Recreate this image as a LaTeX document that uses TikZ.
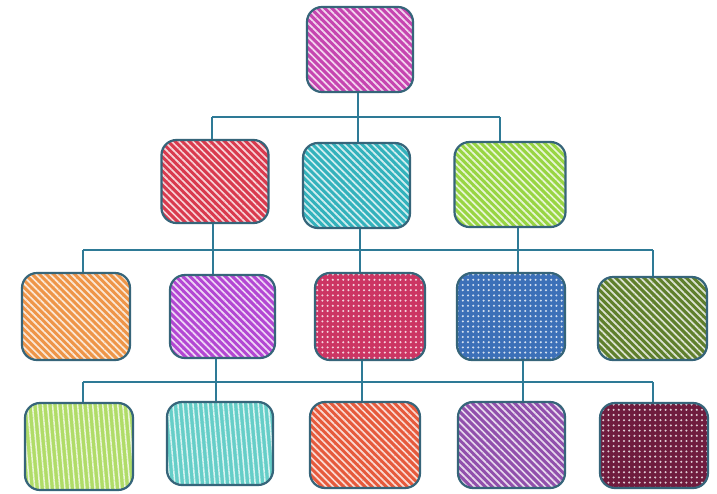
\documentclass[tikz,border=0pt]{standalone}
\usetikzlibrary{patterns.meta}
\definecolor{wirec}{HTML}{2E7A96}
\definecolor{edgec}{HTML}{36657A}
\definecolor{cTop}{HTML}{C645B0}
\definecolor{cOneA}{HTML}{D93A4E}
\definecolor{cOneB}{HTML}{33B2BC}
\definecolor{cOneC}{HTML}{98D543}
\definecolor{cTwoA}{HTML}{EE9548}
\definecolor{cTwoB}{HTML}{B347D3}
\definecolor{cTwoC}{HTML}{CC3563}
\definecolor{cTwoD}{HTML}{3C70B8}
\definecolor{cTwoE}{HTML}{5F7F2C}
\definecolor{cThrA}{HTML}{B0DC68}
\definecolor{cThrB}{HTML}{66CEC8}
\definecolor{cThrC}{HTML}{E65A3C}
\definecolor{cThrD}{HTML}{9150AC}
\definecolor{cThrE}{HTML}{6F1C3E}
\begin{document}
\begin{tikzpicture}[x=1pt,y=-1pt,
  wire/.style={draw=wirec, line width=1.5pt},
  stripes/.style={pattern={Lines[angle=-45,distance=5pt,line width=1.7pt]}, pattern color=white!78!#1},
  vstripes/.style={pattern={Lines[angle=95,distance=5pt,line width=1.5pt]}, pattern color=white!75!#1},
  dotty/.style={pattern={Dots[radius=1.15pt,distance=5.2pt]}, pattern color=white!78!#1},
  cbox/.style 2 args={draw=edgec, line width=2.2pt, rounded corners=15pt,
    preaction={fill=#1}, #2=#1, inner sep=0pt,
    minimum width=107pt, minimum height=85pt}]
\fill[white] (0,0) rectangle (717,493);
\useasboundingbox (0,0) rectangle (717,493);

% nodes
\node[cbox={cTop}{stripes}, minimum width=106pt] (top) at (360,49.5) {};
\node[cbox={cOneA}{stripes}, minimum height=83pt] (r1a) at (215,181.5) {};
\node[cbox={cOneB}{stripes}] (r1b) at (356.5,185.5) {};
\node[cbox={cOneC}{stripes}, minimum width=111pt] (r1c) at (510,184.5) {};
\node[cbox={cTwoA}{stripes}, minimum width=108pt, minimum height=87pt] (r2a) at (76,316.5) {};
\node[cbox={cTwoB}{stripes}, minimum width=105pt, minimum height=83pt] (r2b) at (222.5,316.5) {};
\node[cbox={cTwoC}{dotty}, minimum width=110pt, minimum height=87pt] (r2c) at (370,316.5) {};
\node[cbox={cTwoD}{dotty}, minimum width=108pt, minimum height=87pt] (r2d) at (511,316.5) {};
\node[cbox={cTwoE}{stripes}, minimum width=109pt, minimum height=83pt] (r2e) at (652.5,318.5) {};
\node[cbox={cThrA}{vstripes}, minimum width=108pt, minimum height=87pt] (r3a) at (79,446.5) {};
\node[cbox={cThrB}{vstripes}, minimum width=106pt, minimum height=83pt] (r3b) at (220,443.5) {};
\node[cbox={cThrC}{stripes}, minimum width=110pt, minimum height=86pt] (r3c) at (365,445) {};
\node[cbox={cThrD}{stripes}, minimum width=107pt, minimum height=86pt] (r3d) at (511.5,445) {};
\node[cbox={cThrE}{dotty}, minimum width=108pt, minimum height=85pt] (r3e) at (654,445.5) {};

% bus coordinates
\coordinate (b1L) at (212,117); \coordinate (b1R) at (500,117);
\coordinate (b2L) at (83,250);  \coordinate (b2R) at (653,250);
\coordinate (b3L) at (83,382);  \coordinate (b3R) at (653,382);
% through-line positions
\coordinate (xa) at (358,0);
\coordinate (xb) at (213,0);
\coordinate (xc) at (360,0);
\coordinate (xd) at (518,0);
\coordinate (xe) at (216,0);
\coordinate (xf) at (362,0);
\coordinate (xg) at (523,0);

% level 1
\draw[wire] (b1L) -- (b1R);
\draw[wire] (xa |- top.south) -- (xa |- r1b.north);
\draw[wire] (b1L) -- (b1L |- r1a.north);
\draw[wire] (b1R) -- (b1R |- r1c.north);

% level 2
\draw[wire] (b2L) -- (b2R);
\draw[wire] (xb |- r1a.south) -- (xb |- r2b.north);
\draw[wire] (xc |- r1b.south) -- (xc |- r2c.north);
\draw[wire] (xd |- r1c.south) -- (xd |- r2d.north);
\draw[wire] (b2L) -- (b2L |- r2a.north);
\draw[wire] (b2R) -- (b2R |- r2e.north);

% level 3
\draw[wire] (b3L) -- (b3R);
\draw[wire] (xe |- r2b.south) -- (xe |- r3b.north);
\draw[wire] (xf |- r2c.south) -- (xf |- r3c.north);
\draw[wire] (xg |- r2d.south) -- (xg |- r3d.north);
\draw[wire] (b3L) -- (b3L |- r3a.north);
\draw[wire] (b3R) -- (b3R |- r3e.north);
\end{tikzpicture}
\end{document}
